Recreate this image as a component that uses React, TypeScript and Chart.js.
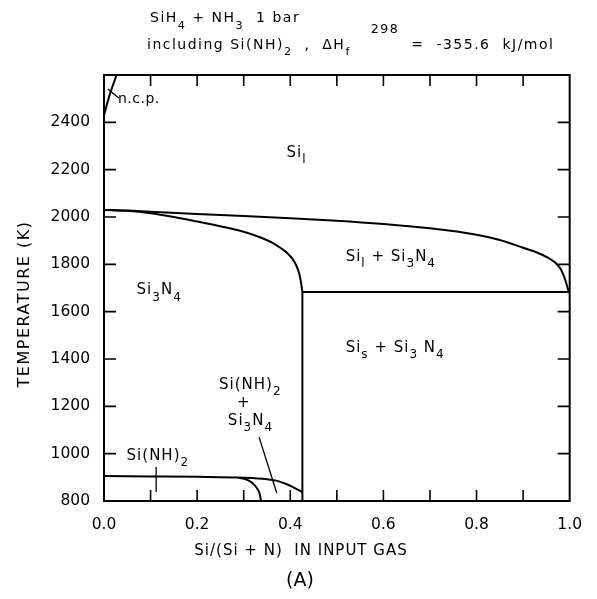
import React, { useEffect, useRef } from 'react';
import { Chart, registerables } from 'chart.js';

Chart.register(...registerables);

const FONT = "'DejaVu Sans', sans-serif";

// ---- axes ----
const xMin = 0;
const xMax = 1;
const yMin = 800;
const yMax = 2600;
const xTickLabels = ['0.0', '0.2', '0.4', '0.6', '0.8', '1.0'];
const yTickLabels = ['800', '1000', '1200', '1400', '1600', '1800', '2000', '2200', '2400'];

// ---- phase boundaries (x = Si/(Si+N), T in K) ----
const liquidusX = [0, 0.05, 0.1, 0.2, 0.3, 0.4, 0.5, 0.6, 0.7, 0.8, 0.85, 0.9, 0.93, 0.955, 0.97, 0.98, 0.988, 0.994, 0.998];
const liquidusT = [2030, 2027, 2022, 2013, 2004, 1995, 1984, 1970, 1952, 1925, 1903, 1870, 1850, 1826, 1806, 1782, 1748, 1712, 1683];

const si3n4X = [0, 0.05, 0.1, 0.15, 0.2, 0.25, 0.3, 0.33, 0.36, 0.38, 0.395, 0.405, 0.413, 0.419, 0.423, 0.426];
const si3n4T = [2030, 2026, 2016, 2000, 1981, 1961, 1938, 1918, 1893, 1868, 1845, 1822, 1795, 1762, 1725, 1683];

const verticalX = [0.426, 0.426];
const verticalT = [1683, 800];

const eutecticX = [0.426, 1.0];
const eutecticT = [1683, 1683];

const siNH2UpperX = [0, 0.1, 0.2, 0.3, 0.35, 0.37, 0.39, 0.405, 0.417, 0.426];
const siNH2UpperT = [906, 904, 902, 898, 892, 886, 873, 860, 847, 838];

const siNH2InnerX = [0.29, 0.305, 0.318, 0.327, 0.333, 0.336, 0.337];
const siNH2InnerT = [898, 892, 877, 858, 838, 815, 800];

const ncpX = [0, 0.012, 0.027];
const ncpT = [2430, 2515, 2600];

// leader lines from labels
const ncpLeaderX = [0.0084, 0.0316];
const ncpLeaderT = [2541, 2503];
const siNH2LeaderX = [0.112, 0.112];
const siNH2LeaderT = [944, 838];
const mixLeaderX = [0.333, 0.371];
const mixLeaderT = [1070, 834];

type Seg = { t: string; sub?: boolean; sup?: boolean; dx?: number };

// region labels (anchor in data units; left-aligned unless centered)
const regionLabels: { x: number; y: number; segs: Seg[]; center?: boolean }[] = [
  { x: 0.392, y: 2270, segs: [{ t: 'Si' }, { t: 'l', sub: true }] },
  { x: 0.519, y: 1831, segs: [{ t: 'Si' }, { t: 'l', sub: true }, { t: ' + Si' }, { t: '3', sub: true }, { t: 'N' }, { t: '4', sub: true }] },
  { x: 0.07, y: 1689, segs: [{ t: 'Si' }, { t: '3', sub: true }, { t: 'N' }, { t: '4', sub: true }] },
  { x: 0.519, y: 1446, segs: [{ t: 'Si' }, { t: 's', sub: true }, { t: ' + Si' }, { t: '3', sub: true }, { t: ' N' }, { t: '4', sub: true }] },
  { x: 0.247, y: 1290, segs: [{ t: 'Si(NH)' }, { t: '2', sub: true }] },
  { x: 0.3, y: 1214, segs: [{ t: '+' }], center: true },
  { x: 0.266, y: 1138, segs: [{ t: 'Si' }, { t: '3', sub: true }, { t: 'N' }, { t: '4', sub: true }] },
  { x: 0.0485, y: 990, segs: [{ t: 'Si(NH)' }, { t: '2', sub: true }] },
];
const ncpLabel = { x: 0.03, y: 2499, text: 'n.c.p.' };

const titleLine1: Seg[] = [{ t: 'SiH' }, { t: '4', sub: true }, { t: ' + NH' }, { t: '3', sub: true }, { t: '  1 bar' }];
const titleLine2: Seg[] = [
  { t: 'including Si(NH)' }, { t: '2', sub: true }, { t: '  ,  ΔH' }, { t: 'f', sub: true },
  { t: '298', sup: true, dx: 20 }, { t: '  =  -355.6  kJ/mol' },
];
const xTitle = 'Si/(Si + N)  IN INPUT GAS';
const yTitle = 'TEMPERATURE (K)';
const panelLabel = '(A)';

function segFont(s: Seg, size: number) {
  return s.sub ? size * 0.8 : s.sup ? size * 0.9 : size;
}

function richWidth(ctx: CanvasRenderingContext2D, segs: Seg[], size: number, spacing: number) {
  let w = 0;
  for (const s of segs) {
    ctx.font = `${segFont(s, size)}px ${FONT}`;
    (ctx as any).letterSpacing = spacing + 'px';
    w += (s.dx || 0) + ctx.measureText(s.t).width;
  }
  return w;
}

function drawRich(ctx: CanvasRenderingContext2D, segs: Seg[], x: number, y: number, size: number, spacing: number, subDy: number, supDy: number) {
  let cx = x;
  for (const s of segs) {
    ctx.font = `${segFont(s, size)}px ${FONT}`;
    (ctx as any).letterSpacing = spacing + 'px';
    cx += s.dx || 0;
    ctx.fillText(s.t, cx, y + (s.sub ? subDy : s.sup ? supDy : 0));
    cx += ctx.measureText(s.t).width;
  }
}

const decorPlugin = {
  id: 'diagramDecor',
  afterDraw(chart: any) {
    const { ctx, chartArea: a, scales } = chart;
    const xs = scales.x;
    const ys = scales.y;
    ctx.save();
    ctx.strokeStyle = '#000';
    ctx.fillStyle = '#000';
    ctx.lineWidth = 2;
    ctx.strokeRect(a.left, a.top, a.right - a.left, a.bottom - a.top);

    ctx.lineWidth = 1.6;
    ctx.beginPath();
    xs.ticks.forEach((t: any) => {
      if (t.value <= xMin + 1e-9 || t.value >= xMax - 1e-9) return;
      const px = xs.getPixelForValue(t.value);
      ctx.moveTo(px, a.bottom);
      ctx.lineTo(px, a.bottom - 11);
      ctx.moveTo(px, a.top);
      ctx.lineTo(px, a.top + 11);
    });
    ys.ticks.forEach((t: any) => {
      if (t.value <= yMin || t.value >= yMax) return;
      const py = ys.getPixelForValue(t.value);
      ctx.moveTo(a.left, py);
      ctx.lineTo(a.left + 12, py);
      ctx.moveTo(a.right, py);
      ctx.lineTo(a.right - 12, py);
    });
    ctx.stroke();

    ctx.textBaseline = 'middle';
    ctx.textAlign = 'left';
    for (const l of regionLabels) {
      const px = xs.getPixelForValue(l.x);
      const py = ys.getPixelForValue(l.y);
      const w = richWidth(ctx, l.segs, 15, 1);
      drawRich(ctx, l.segs, l.center ? px - w / 2 : px, py, 15, 1, 7, -8);
    }
    ctx.font = `14px ${FONT}`;
    (ctx as any).letterSpacing = '0.5px';
    ctx.fillText(ncpLabel.text, xs.getPixelForValue(ncpLabel.x), ys.getPixelForValue(ncpLabel.y));

    // titles
    drawRich(ctx, titleLine1, 150, 18, 14, 1.5, 8, -12);
    drawRich(ctx, titleLine2, 147, 45, 14, 1.5, 7, -15);

    ctx.textAlign = 'center';
    ctx.font = `15px ${FONT}`;
    (ctx as any).letterSpacing = '1px';
    ctx.fillText(xTitle, 301, 551);
    ctx.font = `19px ${FONT}`;
    (ctx as any).letterSpacing = '0px';
    ctx.fillText(panelLabel, 300, 581);

    ctx.save();
    ctx.translate(25, 304);
    ctx.rotate(-Math.PI / 2);
    ctx.font = `16px ${FONT}`;
    (ctx as any).letterSpacing = '1.5px';
    ctx.fillText(yTitle, 0, 0);
    ctx.restore();

    ctx.restore();
  },
};

function line(xsArr: number[], ysArr: number[], width = 2) {
  return {
    data: xsArr.map((x, i) => ({ x, y: ysArr[i] })),
    showLine: true,
    borderColor: '#000',
    borderWidth: width,
    pointRadius: 0,
    cubicInterpolationMode: 'monotone' as const,
    fill: false,
  };
}

export default function App() {
  const ref = useRef<HTMLCanvasElement>(null);
  useEffect(() => {
    if (!ref.current) return;
    const chart = new Chart(ref.current, {
      type: 'scatter',
      data: {
        datasets: [
          line(liquidusX, liquidusT),
          line(si3n4X, si3n4T),
          line(verticalX, verticalT),
          line(eutecticX, eutecticT),
          line(siNH2UpperX, siNH2UpperT),
          line(siNH2InnerX, siNH2InnerT),
          line(ncpX, ncpT),
          line(ncpLeaderX, ncpLeaderT, 1.3),
          line(siNH2LeaderX, siNH2LeaderT, 1.3),
          line(mixLeaderX, mixLeaderT, 1.3),
        ],
      },
      options: {
        responsive: false,
        devicePixelRatio: 1,
        animation: false,
        layout: { padding: { left: 0, top: 75, right: 19, bottom: 0 } },
        plugins: { legend: { display: false }, tooltip: { enabled: false }, title: { display: false } },
        scales: {
          x: {
            type: 'linear',
            min: xMin,
            max: xMax,
            afterFit: (s: any) => { s.height = 98; },
            grid: { display: false, drawTicks: false },
            border: { display: false },
            ticks: {
              stepSize: 0.1,
              autoSkip: false,
              maxRotation: 0,
              padding: 15,
              color: '#000',
              font: { family: FONT, size: 15.5 },
              callback: (v: any) => {
                const lbl = Number(v).toFixed(1);
                return xTickLabels.includes(lbl) ? lbl : '';
              },
            },
          },
          y: {
            type: 'linear',
            min: yMin,
            max: yMax,
            afterFit: (s: any) => { s.width = 104; },
            grid: { display: false, drawTicks: false },
            border: { display: false },
            ticks: {
              stepSize: 200,
              autoSkip: false,
              padding: 14,
              color: '#000',
              font: { family: FONT, size: 15.5 },
              callback: (v: any) => {
                const lbl = String(Math.round(Number(v)));
                return yTickLabels.includes(lbl) ? lbl : '';
              },
            },
          },
        },
      },
      plugins: [decorPlugin],
    });
    return () => chart.destroy();
  }, []);
  return (
    <div style={{ position: 'fixed', left: 0, top: 0, width: 597, height: 599, background: '#fff' }}>
      <canvas ref={ref} width={597} height={599} />
    </div>
  );
}
